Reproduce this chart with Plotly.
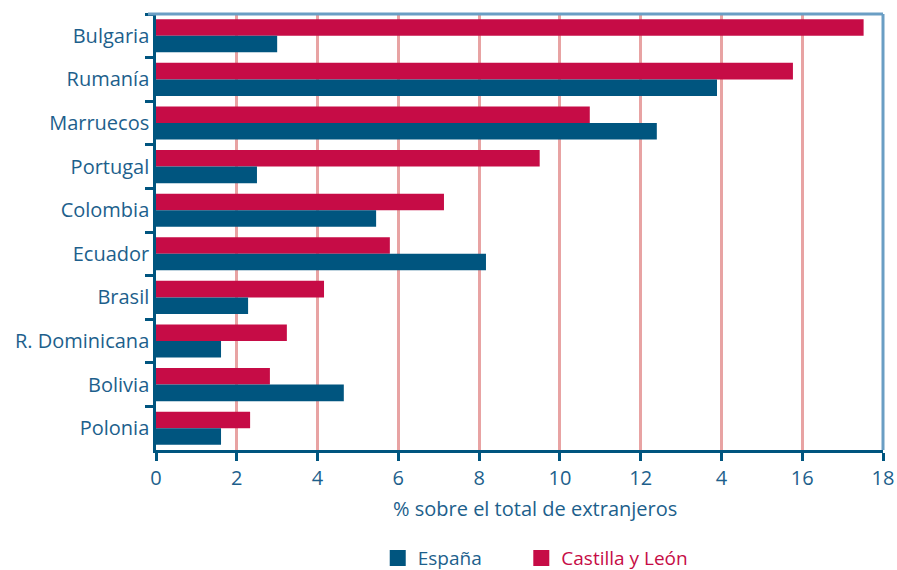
import plotly.graph_objects as go

countries = ["Bulgaria", "Rumanía", "Marruecos", "Portugal", "Colombia",
             "Ecuador", "Brasil", "R. Dominicana", "Bolivia", "Polonia"]
castilla_leon = [17.52, 15.77, 10.74, 9.50, 7.13, 5.79, 4.16, 3.24, 2.82, 2.33]
espana = [3.0, 13.89, 12.40, 2.50, 5.45, 8.17, 2.28, 1.61, 4.65, 1.61]
tick_vals = [0, 2, 4, 6, 8, 10, 12, 14, 16, 18]
tick_text = ["0", "2", "4", "6", "8", "10", "12", "4", "16", "18"]
x_title = "% sobre el total de extranjeros"

RED = "#c60c46"
BLUE = "#00557f"
TXT = "#1d5f8c"
FONT = "Open Sans"

fig = go.Figure()
fig.add_trace(go.Bar(
    y=countries, x=castilla_leon, orientation="h", name="Castilla y León",
    marker=dict(color=RED, line=dict(width=0)), showlegend=False))
fig.add_trace(go.Bar(
    y=countries, x=espana, orientation="h", name="España",
    marker=dict(color=BLUE, line=dict(width=0)), showlegend=False))

# legend entries
fig.add_trace(go.Scatter(x=[None], y=[None], mode="markers", name="España" + "&nbsp;" * 7,
                         marker=dict(symbol="square", size=16, color=BLUE), legendrank=1))
fig.add_trace(go.Scatter(x=[None], y=[None], mode="markers",
                         name=f"<span style='color:{RED}'>Castilla y León</span>",
                         marker=dict(symbol="square", size=16, color=RED), legendrank=2))

fig.update_layout(
    width=897, height=570,
    margin=dict(l=156, r=14, t=14, b=120, autoexpand=False),
    plot_bgcolor="white", paper_bgcolor="white",
    barmode="group", bargap=0.24, bargroupgap=0,
    font=dict(family=FONT, size=20, color=TXT),
    showlegend=True,
    legend=dict(orientation="h", x=0.305, xanchor="left", yref="container",
                y=0.021, yanchor="middle", font=dict(size=19, color=TXT),
                tracegroupgap=0, bgcolor="rgba(0,0,0,0)"),
    xaxis=dict(range=[0, 18], tickvals=tick_vals, ticktext=tick_text,
               showgrid=True, gridcolor="#e8a3a3", gridwidth=3,
               showline=True, linecolor=BLUE, linewidth=2.5,
               ticks="outside", ticklen=8, tickwidth=2.5, tickcolor=BLUE,
               tickfont=dict(size=20, color=TXT), zeroline=False, automargin=False),
    yaxis=dict(categoryorder="array", categoryarray=countries, autorange="reversed",
               showline=True, linecolor=BLUE, linewidth=2.5,
               ticks="outside", ticklen=8, tickwidth=2.5, tickcolor=BLUE,
               tickson="boundaries", showgrid=False, automargin=False, zeroline=False,
               tickfont=dict(size=20, color=TXT)),
)

fig.add_annotation(text=x_title, xref="paper", yref="paper", x=0.521, y=0,
                   xanchor="center", yanchor="middle", yshift=-58, showarrow=False,
                   font=dict(size=20, color=TXT))

fig.add_shape(type="line", xref="paper", yref="paper", x0=-0.011, x1=1, y0=1, y1=1,
              line=dict(color="#6a9ec4", width=3), layer="above")
fig.add_shape(type="line", xref="paper", yref="paper", x0=1, x1=1, y0=0, y1=1,
              line=dict(color="#6a9ec4", width=3), layer="above")

fig.write_html("out.html", config={"displayModeBar": False},
               post_script="document.body.style.margin='0px';")
